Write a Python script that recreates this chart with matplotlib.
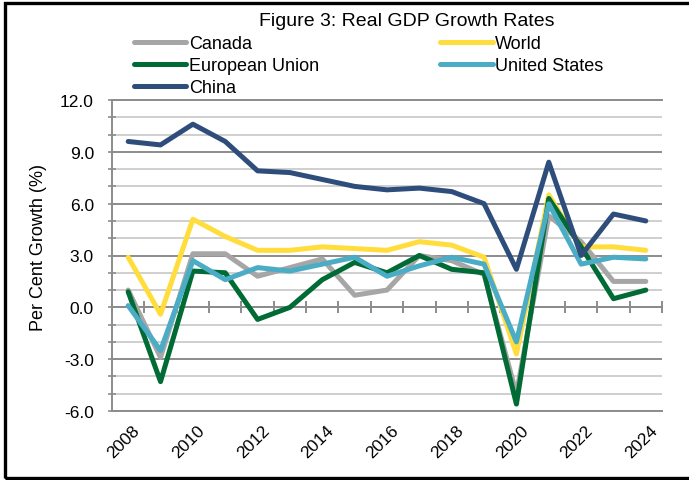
import numpy as np
import matplotlib.pyplot as plt
from matplotlib.patches import Rectangle
from matplotlib.transforms import ScaledTranslation

years = list(range(2008, 2025))
canada = [1.0, -2.9, 3.1, 3.1, 1.8, 2.3, 2.8, 0.7, 1.0, 3.0, 2.7, 1.9, -5.0, 5.3, 3.8, 1.5, 1.5]
world = [2.9, -0.4, 5.1, 4.1, 3.3, 3.3, 3.5, 3.4, 3.3, 3.8, 3.6, 2.9, -2.7, 6.5, 3.5, 3.5, 3.3]
eu = [0.9, -4.3, 2.1, 2.0, -0.7, 0.0, 1.6, 2.6, 2.0, 3.0, 2.2, 2.0, -5.6, 6.3, 3.5, 0.5, 1.0]
us = [0.1, -2.5, 2.7, 1.6, 2.3, 2.1, 2.5, 2.9, 1.8, 2.4, 2.9, 2.5, -2.0, 6.0, 2.5, 2.9, 2.8]
china = [9.6, 9.4, 10.6, 9.6, 7.9, 7.8, 7.4, 7.0, 6.8, 6.9, 6.7, 6.0, 2.2, 8.4, 3.0, 5.4, 5.0]

names = ['Canada', 'World', 'European Union', 'United States', 'China']
colors = ['#a6a6a6', '#ffdd3c', '#006b35', '#4bacc6', '#2e4d7b']

plt.rcParams['font.family'] = ['Liberation Sans', 'DejaVu Sans']

fig = plt.figure(figsize=(6.89, 4.81), dpi=100)
ax = fig.add_axes([112/689, 1-412/481, 550/689, 311/481])

x = np.arange(len(years))
lines = []
for vals, name, c in zip([canada, world, eu, us, china], names, colors):
    ln, = ax.plot(x, vals, color=c, lw=3.6, label=name, solid_capstyle='round',
                  solid_joinstyle='round', zorder=3)
    lines.append(ln)

ax.set_xlim(-0.5, len(years) - 0.5)
ax.set_ylim(-6, 12)
ax.set_yticks(np.arange(-6, 12.1, 3))
ax.set_yticks(np.arange(-6, 12.1, 1), minor=True)
ax.set_yticklabels([f'{v:.1f}' for v in np.arange(-6, 12.1, 3)], fontsize=12.5)
ax.grid(axis='y', which='minor', color='#cfcfcf', lw=1.4, zorder=0)
ax.grid(axis='y', which='major', color='#8c8c8c', lw=1.4, zorder=1)
ax.tick_params(axis='y', which='both', direction='inout', length=6, color='#8c8c8c',
               width=1.2, pad=10)

ax.spines['right'].set_visible(False)
for s in ['left', 'top', 'bottom']:
    ax.spines[s].set_color('#8c8c8c')
    ax.spines[s].set_linewidth(1.4)

# year labels at bottom, every other category
ax.set_xticks(x[::2])
ax.set_xticklabels([str(y) for y in years[::2]], rotation=45, ha='right',
                   rotation_mode='anchor', fontsize=12.5)
ax.tick_params(axis='x', length=0, pad=8)
for lab in ax.get_xticklabels():
    lab.set_transform(lab.get_transform() + ScaledTranslation(0.04, 0, fig.dpi_scale_trans))

# zero line with category tick marks
zero = ax.secondary_xaxis(6/18)
zero.set_xticks(np.arange(-0.5, len(years), 1))
zero.set_xticklabels([])
zero.tick_params(direction='inout', length=8, color='#8c8c8c', width=1.4)
zero.spines['bottom'].set_color('#8c8c8c')
zero.spines['bottom'].set_linewidth(1.4)

ax.set_ylabel('Per Cent Growth (%)', fontsize=13)
ax.yaxis.set_label_coords(-0.118, 0.53)

fig.text(407/689, 1-22/481, 'Figure 3: Real GDP Growth Rates', ha='center', va='center',
         fontsize=14)

order = [0, 2, 4, 1, 3]
fig.legend([lines[i] for i in order], [names[i] for i in order], ncol=2,
           loc='upper left', bbox_to_anchor=(134/689, 1-36/481), frameon=False,
           prop={'size': 13}, handlelength=2.9, handletextpad=0.15,
           columnspacing=6.7, labelspacing=0.28, borderpad=0, borderaxespad=0)

fig.add_artist(Rectangle((5/689, 2/481), 1.0, 475/481, transform=fig.transFigure,
                         fill=False, edgecolor='black', lw=2.4))

fig.savefig('out.png', dpi=100)
